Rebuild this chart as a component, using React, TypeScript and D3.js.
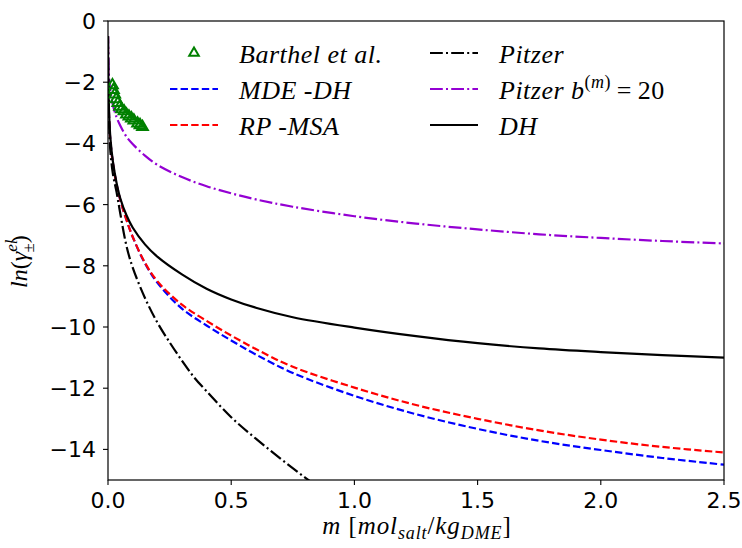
import React from 'react';
import * as d3 from 'd3';

// molality grid shared by the model curves
const mGrid = [0, 0.001, 0.003, 0.006, 0.01, 0.02, 0.035, 0.05, 0.075, 0.1, 0.15, 0.2, 0.3, 0.4, 0.5, 0.6, 0.75, 1.0, 1.25, 1.5, 1.75, 2.0, 2.25, 2.5];
const dhValues = [-0.5, -1.7, -2.6, -3.3, -3.85, -4.6, -5.3, -5.8, -6.35, -6.75, -7.3, -7.7, -8.28, -8.75, -9.1, -9.37, -9.68, -10.02, -10.3, -10.53, -10.7, -10.82, -10.92, -11.0];
const pitzer20Values = [-0.5, -1.2, -1.65, -2.0, -2.3, -2.75, -3.15, -3.42, -3.78, -4.02, -4.4, -4.7, -5.1, -5.4, -5.63, -5.83, -6.07, -6.38, -6.62, -6.81, -6.97, -7.09, -7.19, -7.27];
const rpMsaValues = [-0.5, -1.75, -2.75, -3.45, -3.95, -4.65, -5.35, -5.85, -6.5, -7.05, -7.9, -8.5, -9.27, -9.8, -10.28, -10.72, -11.3, -11.98, -12.55, -13.0, -13.38, -13.68, -13.92, -14.1];
const mdeDhValues = [-0.5, -1.75, -2.75, -3.45, -3.95, -4.65, -5.35, -5.85, -6.5, -7.05, -7.92, -8.55, -9.4, -9.95, -10.44, -10.9, -11.5, -12.25, -12.85, -13.33, -13.72, -14.02, -14.28, -14.5];

const pitzerM = [0, 0.001, 0.003, 0.006, 0.01, 0.02, 0.035, 0.05, 0.075, 0.1, 0.15, 0.2, 0.25, 0.3, 0.35, 0.4, 0.5, 0.6, 0.7, 0.8, 0.9];
const pitzerValues = [-0.5, -1.8, -2.9, -3.7, -4.3, -5.0, -5.6, -6.3, -7.35, -8.05, -9.05, -9.85, -10.5, -11.1, -11.65, -12.1, -12.95, -13.65, -14.3, -14.92, -15.5];

const barthelM = [0.018, 0.022, 0.027, 0.033, 0.04, 0.047, 0.055, 0.065, 0.075, 0.085, 0.095, 0.105, 0.12, 0.13, 0.14];
const barthelValues = [-2.1, -2.25, -2.4, -2.55, -2.68, -2.8, -2.88, -2.95, -3.05, -3.12, -3.18, -3.25, -3.35, -3.4, -3.46];

const xTicks = [0, 0.5, 1.0, 1.5, 2.0, 2.5];
const yTicks = [0, -2, -4, -6, -8, -10, -12, -14];

const W = 742, H = 548;
const L = 108, R = 724, T = 21, B = 480;

const serif = '"Liberation Serif", "DejaVu Serif", serif';
const sans = '"DejaVu Sans", sans-serif';

export default function App() {
  const x = d3.scaleLinear().domain([0, 2.5]).range([L, R]);
  const y = d3.scaleLinear().domain([-15, 0]).range([B, T]);
  const line = d3.line<[number, number]>().x(d => x(d[0])).y(d => y(d[1])).curve(d3.curveCatmullRom.alpha(0.5));
  const zip = (ms: number[], vs: number[]) => ms.map((m, i) => [m, vs[i]] as [number, number]);

  const series = [
    { key: 'mde', data: zip(mGrid, mdeDhValues), color: '#0000ff', dash: '7.4 3.2' },
    { key: 'rp', data: zip(mGrid, rpMsaValues), color: '#ff0000', dash: '7.4 3.2' },
    { key: 'p20', data: zip(mGrid, pitzer20Values), color: '#9400d3', dash: '12.8 3.2 2 3.2' },
    { key: 'dh', data: zip(mGrid, dhValues), color: '#000000', dash: null },
    { key: 'pitzer', data: zip(pitzerM, pitzerValues), color: '#000000', dash: '12.8 3.2 2 3.2' },
  ];
  const tri = d3.symbol().type(d3.symbolTriangle).size(50)();
  const triLeg = d3.symbol().type(d3.symbolTriangle).size(40)();

  const legFont = 26;
  const rows = [53, 89, 125];
  const c1x0 = 170, c1x1 = 218, c1t = 239;
  const c2x0 = 430, c2x1 = 478, c2t = 499;

  return (
    <svg width={W} height={H} style={{ position: 'absolute', left: 0, top: 0, background: '#fff' }}>
      <rect x={0} y={0} width={W} height={H} fill="#fff" />
      <defs>
        <clipPath id="plotclip"><rect x={L} y={T} width={R - L} height={B - T} /></clipPath>
      </defs>
      <g clipPath="url(#plotclip)">
        {series.map(s => (
          <path key={s.key} d={line(s.data) || ''} fill="none" stroke={s.color} strokeWidth={2.2}
            strokeDasharray={s.dash || undefined} />
        ))}
        {barthelM.map((m, i) => (
          <path key={i} d={tri || ''} transform={`translate(${x(m)},${y(barthelValues[i])})`}
            fill="none" stroke="#008000" strokeWidth={2} />
        ))}
      </g>
      {/* spines */}
      <rect x={L} y={T} width={R - L} height={B - T} fill="none" stroke="#000" strokeWidth={1.2} />
      {/* x ticks */}
      {xTicks.map(t => (
        <g key={t}>
          <line x1={x(t)} x2={x(t)} y1={B} y2={B + 5} stroke="#000" strokeWidth={1.1} />
          <text x={x(t)} y={508} textAnchor="middle" fontFamily={sans} fontSize={22}>{t.toFixed(1)}</text>
        </g>
      ))}
      {yTicks.map(t => (
        <g key={t}>
          <line x1={L - 5} x2={L} y1={y(t)} y2={y(t)} stroke="#000" strokeWidth={1.1} />
          <text x={96} y={y(t) + 8} textAnchor="end" fontFamily={sans} fontSize={22}>{t === 0 ? '0' : '\u2212' + Math.abs(t)}</text>
        </g>
      ))}
      {/* x label */}
      <text x={417} y={534} textAnchor="middle" fontFamily={serif} fontSize={25} letterSpacing={0.9}>
        <tspan fontStyle="italic">m</tspan>
        <tspan> [</tspan>
        <tspan fontStyle="italic">mol</tspan>
        <tspan fontStyle="italic" fontSize={18} dy={5}>salt</tspan>
        <tspan dy={-5}>/</tspan>
        <tspan fontStyle="italic">kg</tspan>
        <tspan fontStyle="italic" fontSize={18} dy={5}>DME</tspan>
        <tspan dy={-5}>]</tspan>
      </text>
      {/* y label */}
      <text transform={`translate(27,288) rotate(-90)`} textAnchor="start" fontFamily={serif} fontSize={24}>
        <tspan fontStyle="italic">ln</tspan>
        <tspan>(</tspan>
        <tspan fontStyle="italic">γ</tspan>
        <tspan fontStyle="italic" fontSize={17} dy={-10}>el</tspan>
        <tspan fontSize={17} dx={-13} dy={17}>±</tspan>
        <tspan dy={-7}>)</tspan>
      </text>
      {/* legend */}
      <g fontFamily={serif} fontSize={legFont} fontStyle="italic">
        <path d={triLeg || ''} transform={`translate(${(c1x0 + c1x1) / 2},${rows[0]})`} fill="none" stroke="#008000" strokeWidth={2} />
        <text x={c1t} y={rows[0] + 10} letterSpacing={0.5}>Barthel et al.</text>
        <line x1={c1x0} x2={c1x1} y1={rows[1]} y2={rows[1]} stroke="#0000ff" strokeWidth={2.2} strokeDasharray="7.4 3.2" />
        <text x={c1t} y={rows[1] + 10} letterSpacing={0.5}>MDE -DH</text>
        <line x1={c1x0} x2={c1x1} y1={rows[2]} y2={rows[2]} stroke="#ff0000" strokeWidth={2.2} strokeDasharray="7.4 3.2" />
        <text x={c1t} y={rows[2] + 10} letterSpacing={0.5}>RP -MSA</text>

        <line x1={c2x0} x2={c2x1} y1={rows[0]} y2={rows[0]} stroke="#000" strokeWidth={2.2} strokeDasharray="12.8 3.2 2 3.2" />
        <text x={c2t} y={rows[0] + 10} letterSpacing={0.5}>Pitzer</text>
        <line x1={c2x0} x2={c2x1} y1={rows[1]} y2={rows[1]} stroke="#9400d3" strokeWidth={2.2} strokeDasharray="12.8 3.2 2 3.2" />
        <text x={c2t} y={rows[1] + 10} letterSpacing={0.5}>
          <tspan>Pitzer b</tspan>
          <tspan fontSize={18} fontStyle="normal" dy={-11}>(</tspan>
          <tspan fontSize={18}>m</tspan>
          <tspan fontSize={18} fontStyle="normal">)</tspan>
          <tspan fontStyle="normal" dy={11}>{'\u2009=\u200920'}</tspan>
        </text>
        <line x1={c2x0} x2={c2x1} y1={rows[2]} y2={rows[2]} stroke="#000" strokeWidth={2.2} />
        <text x={c2t} y={rows[2] + 10} letterSpacing={0.5}>DH</text>
      </g>
    </svg>
  );
}
